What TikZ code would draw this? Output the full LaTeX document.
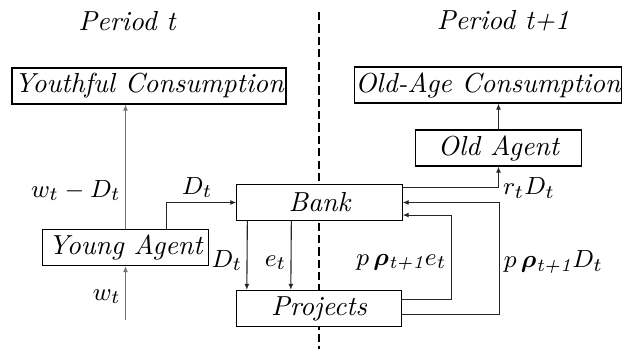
\documentclass[tikz,border=0pt]{standalone}
\usepackage{amsmath,bm}
\usetikzlibrary{calc,arrows.meta}
\tikzstyle{boite}=[rectangle,draw,minimum width=21.1mm,minimum height=4.6mm,
inner sep=0pt,font=\itshape]
\tikzstyle{grande}=[boite,minimum width=35mm]
\tikzstyle{fleche}=[draw=black!85,-{Latex[length=2.2pt,width=1.8pt]}]
\tikzstyle{fleche1}=[fleche,draw=black!55]
\tikzstyle{etiq}=[font=\fontsize{9.5}{11}\selectfont,inner sep=1.5pt]

\begin{document}
\begin{tikzpicture}[x=0.1277mm,y=-0.1277mm]
      \useasboundingbox (0,0) rectangle (623,349);
      \node[font=\itshape] (PT) at (127,21) {Period t};
      \node[font=\itshape] (PT1) at (503,21) {Period t+1};
      \draw[thick,dash pattern=on 3pt off 1.5pt] (319,12) -- (319,349);

      \node[grande] (YC) at (149,86) {Youthful Consumption};
      \node[grande,minimum width=34.2mm] (OC) at (488,85) {Old-Age Consumption};
      \node[boite] (OA) at (498.5,148) {Old Agent};
      \node[boite,fill=white] (B) at (319.5,202.5) {Bank};
      \node[boite] (Y) at (125.5,247.5) {Young Agent};
      \node[boite,fill=white] (P) at (319,308.5) {Projects};

      \coordinate (W) at (125.5,320);
      \draw[fleche1] (W) -- node[etiq,left,pos=0.43] {$w_t$} (Y.south);
      \draw[fleche1] (Y.north) -- node[etiq,left,pos=0.31] {$w_t-D_t$} (Y.north |- YC.south);
      \draw[fleche] ($(Y.north)+(41,0)$) |- node[etiq,above,pos=0.72] {$D_t$} (B.west);
      \draw[fleche] ($(B.south west)+(11,0)$) -- node[etiq,left,pos=0.57] {$D_t$} ($(P.north west)+(11,0)$);
      \draw[fleche] ($(B.south west)+(55,0)$) -- node[etiq,left,pos=0.6] {$e_t$} ($(P.north west)+(55,0)$);
      \draw[fleche] ($(B.north east)+(0,4)$) -| node[etiq,right,pos=0.5] {$r_tD_t$} (OA.south);
      \draw[fleche] (OA.north) -- (OA.north |- OC.south);
      \draw[fleche] ($(P.north east)+(0,10)$) -- ++(49,0) |- node[etiq,left,pos=0.22]
            {$p\,\bm{\rho}_{\textit{t+1}}e_t$} ($(B.south east)+(0,-6)$);
      \draw[fleche] ($(P.north east)+(0,25)$) -- ++(97,0) |- node[etiq,right,pos=0.235]
            {$p\,\bm{\rho}_{\textit{t+1}}D_t$} (B.east);
\end{tikzpicture}
\end{document}
